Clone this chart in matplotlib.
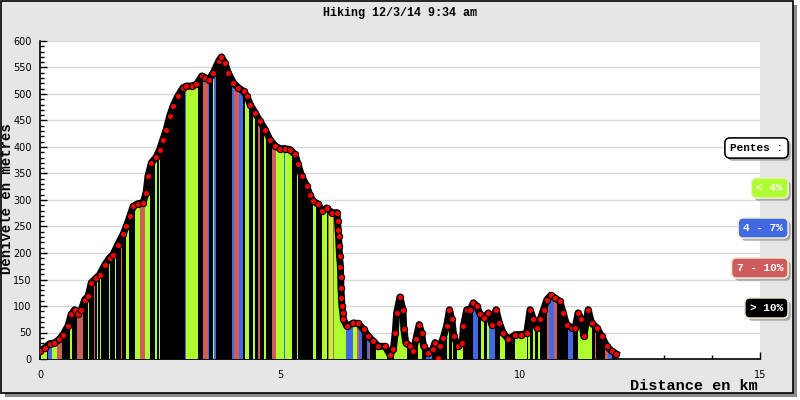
import numpy as np
import matplotlib
matplotlib.use("Agg")
import matplotlib.pyplot as plt
from matplotlib.patches import Rectangle
from matplotlib.ticker import MultipleLocator
import matplotlib.patheffects as pe

# profil : distance (km) / altitude (m)
distance = [0.00, 0.10, 0.20, 0.30, 0.40, 0.48, 0.58, 0.65, 0.72, 0.79,
            0.86, 0.93, 1.00, 1.07, 1.17, 1.24, 1.35, 1.45, 1.52, 1.62,
            1.73, 1.80, 1.87, 1.94, 2.04, 2.15, 2.21, 2.25, 2.32, 2.42,
            2.49, 2.56, 2.63, 2.70, 2.77, 2.87, 2.98, 3.05, 3.16, 3.26,
            3.37, 3.44, 3.52, 3.61, 3.72, 3.78, 3.85, 3.92, 4.03, 4.13,
            4.24, 4.31, 4.38, 4.48, 4.58, 4.69, 4.79, 4.90, 5.00, 5.10,
            5.21, 5.31, 5.38, 5.45, 5.56, 5.62, 5.69, 5.80, 5.87, 5.97,
            6.08, 6.19, 6.20, 6.21, 6.22, 6.23, 6.24, 6.26, 6.265, 6.27,
            6.28, 6.29, 6.31, 6.32, 6.39, 6.53, 6.63, 6.74, 6.84, 6.94,
            7.05, 7.19, 7.29, 7.36, 7.40, 7.43, 7.50, 7.56, 7.58, 7.62,
            7.71, 7.78, 7.83, 7.90, 7.95, 7.99, 8.09, 8.18, 8.23, 8.30,
            8.33, 8.40, 8.47, 8.53, 8.58, 8.62, 8.71, 8.80, 8.82, 8.89,
            8.96, 9.03, 9.10, 9.17, 9.26, 9.34, 9.41, 9.50, 9.57, 9.65,
            9.76, 9.90, 10.03, 10.14, 10.21, 10.28, 10.35, 10.42, 10.49, 10.56,
            10.64, 10.73, 10.83, 10.90, 10.97, 11.08, 11.15, 11.21, 11.28, 11.33,
            11.42, 11.49, 11.60, 11.70, 11.81, 11.91, 12.00]
altitude = [15, 21, 29, 30, 37, 46, 62, 84, 93, 84,
            93, 112, 118, 144, 153, 159, 178, 191, 197, 216,
            235, 251, 269, 288, 293, 295, 314, 345, 370, 381,
            395, 414, 433, 458, 477, 496, 512, 515, 515, 518,
            534, 531, 527, 540, 562, 570, 559, 540, 521, 512,
            505, 496, 480, 465, 449, 433, 414, 402, 397, 397,
            395, 386, 367, 345, 326, 310, 298, 292, 279, 285,
            276, 276, 260, 243, 232, 213, 194, 174, 155, 134,
            115, 100, 87, 75, 62, 68, 67, 56, 43, 34,
            24, 24, 8, 18, 49, 87, 117, 93, 56, 31,
            24, 15, 37, 65, 49, 24, 12, 18, 31, 2,
            24, 40, 62, 93, 75, 43, 24, 31, 62, 93,
            93, 106, 100, 84, 78, 87, 65, 93, 68, 49,
            37, 46, 46, 49, 93, 75, 59, 75, 93, 112,
            120, 115, 109, 87, 65, 59, 59, 87, 75, 43,
            93, 68, 59, 43, 24, 15, 10]

# tronçons colorés selon la pente (le reste est > 10%)
bande_debut = [0.03, 0.16, 0.24, 0.36, 0.63, 0.77, 0.99, 1.125, 1.18, 1.24,
               1.43, 1.56, 1.68, 1.80, 1.97, 2.08, 2.18, 2.39, 2.47, 3.02,
               3.05, 3.39, 3.51, 3.61, 3.63, 3.99, 4.05, 4.15, 4.27, 4.44,
               4.55, 4.67, 4.83, 4.91, 5.08, 5.10, 5.35, 5.69, 5.87, 5.99,
               6.00, 6.105, 6.375, 6.53, 6.60, 6.65, 6.81, 6.85, 7.00, 7.375,
               7.49, 7.88, 8.04, 8.26, 8.47, 8.58, 8.68, 9.03, 9.19, 9.31,
               9.36, 9.58, 9.90, 10.17, 10.28, 10.38, 10.56, 10.61, 10.71, 11.00,
               11.21, 11.56, 11.77, 11.84]
bande_fin = [0.15, 0.24, 0.36, 0.45, 0.67, 0.90, 1.02, 1.15, 1.21, 1.27,
             1.46, 1.58, 1.71, 1.85, 2.08, 2.18, 2.29, 2.44, 2.50, 3.05,
             3.29, 3.51, 3.53, 3.63, 3.66, 4.05, 4.15, 4.22, 4.36, 4.48,
             4.58, 4.71, 4.91, 5.08, 5.10, 5.24, 5.37, 5.76, 5.97, 6.375,
             6.015, 6.12, 6.53, 6.60, 6.65, 6.70, 6.85, 6.875, 7.22, 7.64,
             7.51, 7.95, 8.16, 8.33, 8.53, 8.61, 8.82, 9.13, 9.25, 9.36,
             9.48, 9.69, 10.14, 10.21, 10.31, 10.42, 10.61, 10.71, 10.78, 11.11,
             11.49, 11.58, 11.84, 11.91]
bande_pente = ['<4', '4-7', '<4', '7-10', '<4', '7-10', '<4', '7-10', '<4', '<4',
               '<4', '<4', '7-10', '<4', '<4', '7-10', '<4', '<4', '<4', '4-7',
               '<4', '7-10', '4-7', '<4', '4-7', '4-7', '7-10', '4-7', '<4', '<4',
               '7-10', '<4', '7-10', '<4', '4-7', '<4', '<4', '<4', '<4', '<4',
               '7-10', '7-10', '4-7', '<4', '7-10', '4-7', '4-7', '7-10', '<4', '<4',
               '7-10', '<4', '4-7', '<4', '<4', '<4', '<4', '4-7', '<4', '<4',
               '4-7', '<4', '<4', '<4', '<4', '<4', '7-10', '4-7', '7-10', '4-7',
               '<4', '7-10', '7-10', '4-7']

legende = ['< 4%', '4 - 7%', '7 - 10%', '> 10%']
couleurs = {'<4': '#adff2f', '4-7': '#4169e1', '7-10': '#cd5c5c', '>10': '#000000'}

mono = 'Liberation Mono'

fig = plt.figure(figsize=(8, 4), dpi=100, facecolor='white')

# cadre gris avec ombre
fig.patches.append(Rectangle((5 / 800, 3 / 400), 792 / 800, 392 / 400, transform=fig.transFigure,
                             facecolor='#8c8c8c', edgecolor='none', zorder=-3))
fig.patches.append(Rectangle((1 / 800, 7 / 400), 792 / 800, 392 / 400, transform=fig.transFigure,
                             facecolor='#e6e6e6', edgecolor='black', linewidth=1.2, zorder=-2))

ax = fig.add_axes([40 / 800, 41 / 400, 720 / 800, 318 / 400])
ax.set_facecolor('white')

x = np.array(distance)
y = np.array(altitude)

# remplissage noir sous le profil, puis bandes colorées découpées dessus
remplissage = ax.fill_between(x, 0, y, color='black', linewidth=0, zorder=2)
chemin = remplissage.get_paths()[0]
for a, b, p in zip(bande_debut, bande_fin, bande_pente):
    r = ax.axvspan(a, b, color=couleurs[p], linewidth=0, zorder=3)
    r.set_clip_path(chemin, ax.transData)

ax.plot(x, y, color='black', linewidth=5, zorder=4, solid_joinstyle='round')
ax.plot(x, y, linestyle='none', marker='o', markersize=4.5, markerfacecolor='#ff0000',
        markeredgecolor='black', markeredgewidth=0.8, zorder=5)

ax.set_xlim(0, 15)
ax.set_ylim(0, 600)
ax.xaxis.set_major_locator(MultipleLocator(5))
ax.xaxis.set_minor_locator(MultipleLocator(1))
ax.yaxis.set_major_locator(MultipleLocator(50))
ax.yaxis.set_minor_locator(MultipleLocator(10))
ax.tick_params(which='both', direction='in', colors='black', labelsize=7)
ax.tick_params(which='major', length=5, width=1)
ax.tick_params(which='minor', length=3, width=1)
ax.tick_params(axis='x', pad=8)
ax.tick_params(axis='y', pad=6)
ax.grid(axis='y', which='major', color='#d9d9d9', linewidth=1)
ax.set_axisbelow(True)
for s in ['top', 'right']:
    ax.spines[s].set_visible(False)
for s in ['left', 'bottom']:
    ax.spines[s].set_linewidth(1.2)

fig.text(0.5, 1 - 13 / 400, 'Hiking 12/3/14 9:34 am', ha='center', va='center',
         family=mono, weight='bold', fontsize=8.5)
fig.text(7 / 800, 1 - 199 / 400, 'Dénivelé en metres', rotation=90, ha='center', va='center',
         family=mono, weight='bold', fontsize=10)
fig.text(758 / 800, 1 - 386 / 400, 'Distance en km', ha='right', va='center',
         family=mono, weight='bold', fontsize=11)

# légende des pentes
ombre = [pe.withSimplePatchShadow(offset=(2, -2), shadow_rgbFace='#999999', alpha=0.8), pe.Normal()]
t = fig.text(783 / 800, 1 - 148 / 400, 'Pentes :', ha='right', va='center', family=mono,
             weight='bold', fontsize=8, color='black',
             bbox=dict(boxstyle='round,pad=0.45', fc='white', ec='black', lw=1))
t.get_bbox_patch().set_path_effects(ombre)
for i, (lab, key) in enumerate(zip(legende, ['<4', '4-7', '7-10', '>10'])):
    t = fig.text(783 / 800, 1 - (188 + 40 * i) / 400, lab, ha='right', va='center', family=mono,
                 weight='bold', fontsize=8, color='white',
                 bbox=dict(boxstyle='round,pad=0.45', fc=couleurs[key], ec='#f3edd3', lw=1))
    t.get_bbox_patch().set_path_effects(ombre)

plt.savefig('out.png', dpi=100, facecolor=fig.get_facecolor())
